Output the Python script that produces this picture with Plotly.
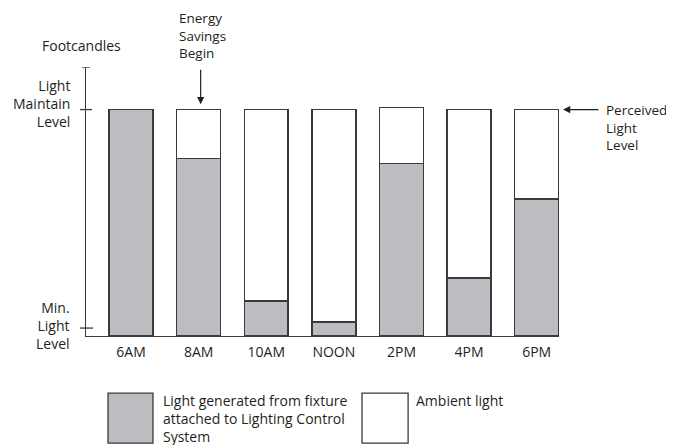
import plotly.graph_objects as go

categories = ["6AM", "8AM", "10AM", "NOON", "2PM", "4PM", "6PM"]
fixture = [100, 78.3, 15.5, 6.2, 76.1, 25.6, 60.5]
perceived = [100, 100, 100, 100, 101, 100, 100]
ambient = [p - f for p, f in zip(perceived, fixture)]
min_level = 3.5
maintain_level = 100
y_top = 118.8

GRAY = "#bcbdc1"
EDGE = "#3a3a3a"
TXT = "#231f20"
FONT = "Open Sans"
FS = 14

xs = list(range(len(categories)))

fig = go.Figure()
fig.add_trace(go.Bar(x=xs, y=fixture, width=0.65, marker=dict(color=GRAY, line=dict(color=EDGE, width=1.5)),
                     name="Light generated from fixture attached to Lighting Control System"))
fig.add_trace(go.Bar(x=xs, y=ambient, width=0.65, marker=dict(color="white", line=dict(color=EDGE, width=1.5)),
                     name="Ambient light"))

fig.update_layout(
    width=674, height=445,
    margin=dict(l=78, r=123, t=59, b=117),
    barmode="stack", showlegend=False,
    plot_bgcolor="white", paper_bgcolor="white",
    font=dict(family=FONT, size=FS, color=TXT),
)
fig.update_xaxes(range=[-0.666, 6.33], tickvals=xs, ticktext=categories, showgrid=False, zeroline=False,
                 showline=True, linecolor=EDGE, linewidth=1.3, ticks="", ticklabelstandoff=3,
                 tickfont=dict(family=FONT, size=FS, color=TXT))
fig.update_yaxes(range=[0, y_top], showgrid=False, zeroline=False, showticklabels=False,
                 showline=True, linecolor=EDGE, linewidth=1.3, ticks="")

shapes = []
# y-axis cross ticks and top cap
for yv, x0, x1 in [(y_top, -4, 4), (maintain_level, -6, 6), (min_level, -6, 7)]:
    shapes.append(dict(type="line", xref="paper", yref="y", xsizemode="pixel", xanchor=0,
                       x0=x0, x1=x1, y0=yv, y1=yv, line=dict(color=EDGE, width=1.3)))
# legend boxes
shapes.append(dict(type="rect", xref="paper", yref="paper", x0=0.0465, x1=0.1416, y0=-0.398, y1=-0.212,
                   fillcolor=GRAY, line=dict(color=EDGE, width=1.3)))
shapes.append(dict(type="rect", xref="paper", yref="paper", x0=0.5835, x1=0.681, y0=-0.398, y1=-0.212,
                   fillcolor="white", line=dict(color=EDGE, width=1.3)))
fig.update_layout(shapes=shapes)

ann = []
def text(x, y, t, xanchor="left", yanchor="middle", xref="paper", yref="paper", align="left",
         xshift=0, yshift=0, size=FS):
    ann.append(dict(x=x, y=y, xref=xref, yref=yref, text=t, showarrow=False, xanchor=xanchor, yanchor=yanchor,
                    align=align, xshift=xshift, yshift=yshift, borderpad=0,
                    font=dict(family=FONT, size=size, color=TXT)))

text(0, maintain_level, "Light<br>Maintain<br>Level", xanchor="right", yref="y", align="right", xshift=-15, yshift=6)
text(0, min_level, "Min.<br>Light<br>Level", xanchor="right", yref="y", align="right", xshift=-15, yshift=3)
text(-0.01, 1.0, "Footcandles", xanchor="center", yanchor="bottom", yshift=11)
text(0.725, 1.0, "Energy<br>Savings<br>Begin", xanchor="left", yanchor="bottom", xref="x", yshift=4, xshift=-2,
     size=13.5)
text(1.0, maintain_level, "Perceived<br>Light<br>Level", xanchor="left", yanchor="top", yref="y",
     xshift=46, yshift=10, size=13.5)
text(0.165, -0.205, "Light generated from fixture<br>attached to Lighting Control<br>System", yanchor="top",
     xshift=-2, yshift=1)
text(0.7, -0.205, "Ambient light", yanchor="top", xshift=-2, yshift=1)

# arrows
ann.append(dict(x=1.03, y=102.4, xref="x", yref="y", ax=0, ay=-36, text="", showarrow=True,
                arrowhead=2, arrowsize=1.2, arrowwidth=1.2, arrowcolor=TXT))
ann.append(dict(x=1.0085, y=maintain_level, xref="paper", yref="y", ax=37, ay=0, text="", showarrow=True,
                arrowhead=2, arrowsize=1.2, arrowwidth=1.2, arrowcolor=TXT))
fig.update_layout(annotations=ann)

fig.write_html("out.html")
